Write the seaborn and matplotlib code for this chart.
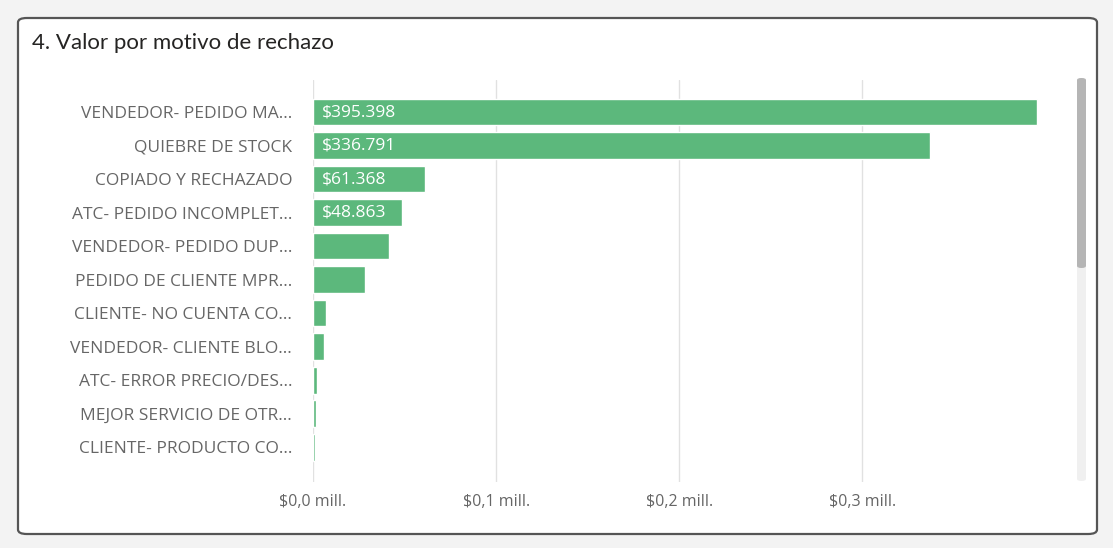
import matplotlib
matplotlib.use("Agg")
import matplotlib.pyplot as plt
from matplotlib.patches import FancyBboxPatch
import seaborn as sns
import pandas as pd

categories = [
    "VENDEDOR- PEDIDO MA...",
    "QUIEBRE DE STOCK",
    "COPIADO Y RECHAZADO",
    "ATC- PEDIDO INCOMPLET...",
    "VENDEDOR- PEDIDO DUP...",
    "PEDIDO DE CLIENTE MPR...",
    "CLIENTE- NO CUENTA CO...",
    "VENDEDOR- CLIENTE BLO...",
    "ATC- ERROR PRECIO/DES...",
    "MEJOR SERVICIO DE OTR...",
    "CLIENTE- PRODUCTO CO...",
]
values = [395398, 336791, 61368, 48863, 41500, 28400, 7100, 6000, 2000, 1700, 1200]
labels = ["$395.398", "$336.791", "$61.368", "$48.863", "", "", "", "", "", "", ""]
xticks = [0, 100000, 200000, 300000]
xtick_labels = ["$0,0 mill.", "$0,1 mill.", "$0,2 mill.", "$0,3 mill."]

df = pd.DataFrame({"motivo": categories, "valor": values})

sns.set_theme(style="white")
FONT = ["Open Sans", "DejaVu Sans"]
plt.rcParams["font.family"] = FONT

W, H = 1113, 548
fig = plt.figure(figsize=(W / 100, H / 100), dpi=100)
fig.patch.set_facecolor("#f3f3f3")

# card
card = FancyBboxPatch((18 / W, 1 - 534 / H), (1097 - 18) / W, (534 - 18) / H,
                      boxstyle="round,pad=0,rounding_size=0.008",
                      transform=fig.transFigure, facecolor="white",
                      edgecolor="#555555", linewidth=1.6, zorder=-10)
fig.patches.append(card)

fig.text(32 / W, 1 - 43 / H, "4. Valor por motivo de rechazo", fontsize=16,
         color="#252423", ha="left", va="center", family=["Lato", "DejaVu Sans"],
         zorder=5)

# scrollbar
track = FancyBboxPatch((1077 / W, 1 - 481 / H), 9 / W, 403 / H,
                       boxstyle="round,pad=0,rounding_size=0.004",
                       transform=fig.transFigure, facecolor="#f0f0f0",
                       edgecolor="none", zorder=-5)
thumb = FancyBboxPatch((1077 / W, 1 - 268 / H), 9 / W, 190 / H,
                       boxstyle="round,pad=0,rounding_size=0.004",
                       transform=fig.transFigure, facecolor="#b5b5b5",
                       edgecolor="none", zorder=-4)
fig.patches.append(track)
fig.patches.append(thumb)

ax_top, ax_bot = 80, 482
ax = fig.add_axes([313 / W, 1 - ax_bot / H, (1060 - 313) / W, (ax_bot - ax_top) / H])
ax.set_zorder(1)
ax.patch.set_alpha(0)
sns.barplot(data=df, x="valor", y="motivo", orient="h", color="#5cb87c",
            saturation=1, width=0.8, ax=ax, zorder=3)

ax.set_xlim(0, 408000)
ax.set_ylim(11.04, -0.955)
ax.set_xticks(xticks)
ax.set_xticklabels(xtick_labels)
ax.xaxis.grid(True, color="#e1e1e1", linewidth=1)
ax.set_axisbelow(True)
for s in ax.spines.values():
    s.set_visible(False)
ax.set_xlabel("")
ax.set_ylabel("")
ax.tick_params(axis="x", length=0, pad=9, labelsize=11.5, labelcolor="#666666")
ax.tick_params(axis="y", length=0, pad=15, labelsize=12.5, labelcolor="#666666")

for i, (v, lab) in enumerate(zip(values, labels)):
    if lab:
        ax.text(5000, i, lab, color="white", fontsize=12.5, va="center",
                ha="left", zorder=4)

fig.savefig("out.png", dpi=100, facecolor=fig.get_facecolor())
